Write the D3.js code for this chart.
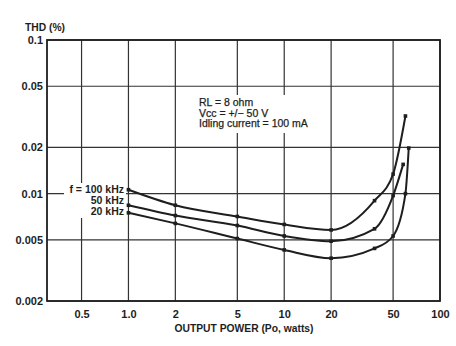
<!DOCTYPE html>
<html>
<head>
<meta charset="utf-8">
<script src="https://cdn.jsdelivr.net/npm/d3@7"></script>
<style>
  html, body { margin: 0; padding: 0; background: #fff; }
  svg { display: block; font-family: "Liberation Sans", Arial, sans-serif; }
</style>
</head>
<body>
<svg id="chart" width="456" height="346"></svg>
<script>
// ---- data ----
const xTicks = [0.5, 1, 2, 5, 10, 20, 50, 100];
const xTickLabels = ["0.5", "1.0", "2", "5", "10", "20", "50", "100"];
const yTicks = [0.1, 0.05, 0.02, 0.01, 0.005, 0.002];
const yTickLabels = ["0.1", "0.05", "0.02", "0.01", "0.005", "0.002"];

const seriesNames = ["f = 100 kHz", "50 kHz", "20 kHz"];
const power100 = [1, 2, 5, 10, 20, 38, 50, 60];
const thd100   = [0.0106, 0.0084, 0.0071, 0.0063, 0.0058, 0.0090, 0.0134, 0.032];
const power50  = [1, 2, 5, 10, 20, 38, 50, 58];
const thd50    = [0.0084, 0.0072, 0.0062, 0.0053, 0.0049, 0.0059, 0.0097, 0.0155];
const power20  = [1, 2, 5, 10, 20, 38, 50, 60, 63];
const thd20    = [0.0075, 0.0064, 0.0051, 0.0043, 0.0038, 0.0044, 0.0053, 0.0100, 0.0198];

const notes = ["RL = 8 ohm", "Vcc = +/\u2212 50 V", "Idling current = 100 mA"];
const yTitle = "THD (%)";
const xTitle = "OUTPUT POWER (Po, watts)";

// ---- layout ----
const svg = d3.select("#chart");
const pL = 47, pR = 440, pT = 40, pB = 301;
const x = d3.scaleLog().domain([0.3, 100]).range([pL, pR]);
const y = d3.scaleLog().domain([0.002, 0.1]).range([pB, pT]);
const ink = "#1e1e1e";

// gridlines
const g = svg.append("g");
g.selectAll("line.vx").data(xTicks).enter().append("line")
  .attr("x1", d => x(d)).attr("x2", d => x(d))
  .attr("y1", pT).attr("y2", pB)
  .attr("stroke", "#333").attr("stroke-width", 1.2);
g.selectAll("line.hy").data(yTicks).enter().append("line")
  .attr("x1", pL).attr("x2", pR)
  .attr("y1", d => y(d)).attr("y2", d => y(d))
  .attr("stroke", "#333").attr("stroke-width", 1.2);

// frame
svg.append("rect").attr("x", pL).attr("y", pT)
  .attr("width", pR - pL).attr("height", pB - pT)
  .attr("fill", "none").attr("stroke", ink).attr("stroke-width", 1.8);

// axes via d3 (labels only)
const xAxis = d3.axisBottom(x).tickValues(xTicks)
  .tickFormat((d, i) => xTickLabels[i]).tickSize(0).tickPadding(9);
const xa = svg.append("g").attr("transform", `translate(0,${pB})`).call(xAxis);
xa.select(".domain").remove();
xa.selectAll("text").attr("font-size", 11).attr("font-weight", "bold")
  .attr("fill", ink).attr("font-family", "Liberation Sans, Arial, sans-serif");

const yAxis = d3.axisLeft(y).tickValues(yTicks)
  .tickFormat((d, i) => yTickLabels[i]).tickSize(0).tickPadding(4);
const ya = svg.append("g").attr("transform", `translate(${pL},0)`).call(yAxis);
ya.select(".domain").remove();
ya.selectAll("text").attr("font-size", 11).attr("font-weight", "bold")
  .attr("fill", ink).attr("font-family", "Liberation Sans, Arial, sans-serif");

// titles
svg.append("text").attr("x", 25).attr("y", 31).text(yTitle)
  .attr("font-size", 10.3).attr("font-weight", "bold").attr("fill", ink);
svg.append("text").attr("x", 244).attr("y", 332).attr("text-anchor", "middle").text(xTitle)
  .attr("font-size", 10.3).attr("font-weight", "bold").attr("fill", ink);

// annotation box
svg.append("rect").attr("x", 196).attr("y", 95).attr("width", 116).attr("height", 38).attr("fill", "#fff");
svg.append("g").selectAll("text").data(notes).enter().append("text")
  .attr("x", 199).attr("y", (d, i) => 106 + i * 10.5)
  .attr("font-size", 10.5).attr("fill", ink)
  .attr("stroke", ink).attr("stroke-width", 0.25).text(d => d);

// series
const series = [
  { name: seriesNames[0], p: power100, v: thd100 },
  { name: seriesNames[1], p: power50, v: thd50 },
  { name: seriesNames[2], p: power20, v: thd20 }
];
const line = d3.line().x(d => x(d[0])).y(d => y(d[1])).curve(d3.curveMonotoneX);
series.forEach(s => {
  const pts = s.p.map((p, i) => [p, s.v[i]]);
  svg.append("path").datum(pts).attr("d", line)
    .attr("fill", "none").attr("stroke", ink).attr("stroke-width", 2);
  svg.append("g").selectAll("rect").data(pts).enter().append("rect")
    .attr("x", d => x(d[0]) - 1.8).attr("y", d => y(d[1]) - 1.8)
    .attr("width", 3.6).attr("height", 3.6).attr("fill", ink);
});

// legend labels with white background
svg.append("rect").attr("x", 64).attr("y", 183).attr("width", 62).attr("height", 35).attr("fill", "#fff");
series.forEach((s, i) => {
  svg.append("text").attr("x", 124).attr("y", 193 + i * 11)
    .attr("text-anchor", "end").attr("font-size", 10.5).attr("font-weight", "bold")
    .attr("fill", ink).text(s.name);
});
</script>
</body>
</html>
